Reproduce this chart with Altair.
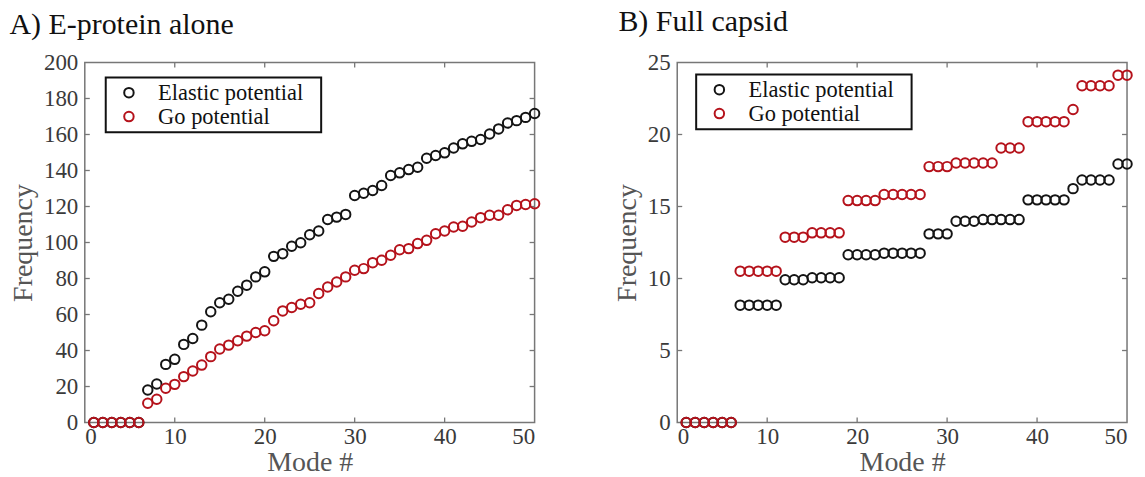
import altair as alt
import pandas as pd

modes = list(range(1, 51))
series_names = ["Elastic potential", "Go potential"]
series_colors = ["#141414", "#B5121B"]

a_elastic = [0, 0, 0, 0, 0, 0, 18.1, 21.4, 32.3, 35.1, 43.4, 46.7, 54.1, 61.5, 66.5, 68.5,
             72.9, 76.3, 80.9, 83.7, 92.3, 93.8, 97.9, 99.9, 104.3, 106.4, 112.8, 114.1,
             115.6, 126.1, 127.4, 128.9, 131.7, 137.2, 138.7, 140.5, 141.8, 146.8, 148.3,
             149.8, 152.5, 154.8, 156.2, 157.2, 160.3, 163.1, 166.4, 167.7, 169.5, 171.7]
a_go = [0, 0, 0, 0, 0, 0, 10.7, 12.9, 19.0, 21.2, 25.5, 28.6, 31.9, 36.6, 40.8, 43.0,
        45.4, 48.0, 50.0, 51.0, 56.5, 62.0, 63.9, 65.7, 66.5, 71.7, 75.3, 78.1, 80.9,
        84.6, 85.5, 88.8, 90.1, 92.9, 96.0, 96.6, 99.4, 101.2, 104.9, 106.4, 108.6,
        109.0, 111.4, 113.8, 115.1, 115.1, 118.2, 120.6, 121.1, 121.5]

b_elastic = [0, 0, 0, 0, 0, 0, 8.15, 8.15, 8.15, 8.15, 8.15, 9.91, 9.91, 9.91, 10.05,
             10.05, 10.05, 10.05, 11.65, 11.65, 11.65, 11.65, 11.76, 11.76, 11.76, 11.76,
             11.76, 13.1, 13.1, 13.1, 13.98, 13.98, 13.98, 14.09, 14.09, 14.09, 14.09,
             14.09, 15.46, 15.46, 15.46, 15.46, 15.46, 16.24, 16.84, 16.84, 16.84, 16.84,
             17.95, 17.95]
b_go = [0, 0, 0, 0, 0, 0, 10.51, 10.51, 10.51, 10.51, 10.51, 12.87, 12.87, 12.87, 13.17,
        13.17, 13.17, 13.17, 15.41, 15.41, 15.41, 15.41, 15.83, 15.83, 15.83, 15.83,
        15.83, 17.77, 17.77, 17.77, 18.02, 18.02, 18.02, 18.02, 18.02, 19.06, 19.06,
        19.06, 20.89, 20.89, 20.89, 20.89, 20.89, 21.74, 23.38, 23.38, 23.38, 23.38,
        24.12, 24.12]

x_ticks = [10, 20, 30, 40]
a_y_ticks = [20, 40, 60, 80, 100, 120, 140, 160, 180]
b_y_ticks = [5, 10, 15, 20]
a_y_labels = [0, 20, 40, 60, 80, 100, 120, 140, 160, 180, 200]
b_y_labels = [0, 5, 10, 15, 20, 25]
x_labels = [0, 10, 20, 30, 40, 50]

W, H = 451, 361
FONT = "Liberation Serif"
FRAME = "#777777"
TL = 5

axis_style = dict(labelFont=FONT, labelFontSize=23, labelColor="#3a3a3a",
                  titleFont=FONT, titleFontSize=28, titleColor="#555555", titleFontWeight="normal",
                  ticks=False, domain=False, grid=False, labelOverlap=False)


def panel(title, elastic, go, ymax, ylabels, yticks, legx, legy, toff, tdx):
    df = pd.DataFrame({
        "mode": modes + modes,
        "freq": elastic + go,
        "series": [series_names[0]] * len(modes) + [series_names[1]] * len(modes),
    })
    xs = alt.Scale(domain=[0, 50], nice=False, zero=False)
    ys = alt.Scale(domain=[0, ymax], nice=False)
    xaxis = alt.Axis(title="Mode #", values=x_labels, labelPadding=3, titlePadding=0, **axis_style)
    yaxis = alt.Axis(title="Frequency", values=ylabels, labelPadding=7, titlePadding=6, **axis_style)
    pts = alt.Chart(df).mark_point(shape="circle", filled=False, size=90, strokeWidth=2, opacity=1).encode(
        x=alt.X("mode:Q", scale=xs, axis=xaxis),
        y=alt.Y("freq:Q", scale=ys, axis=yaxis),
        color=alt.Color("series:N", scale=alt.Scale(domain=series_names, range=series_colors),
                        legend=alt.Legend(title="iii", titleOrient="right", titleFontSize=10,
                                          titlePadding=5, titleOpacity=0,
                                          orient="none", legendX=legx, legendY=legy,
                                          labelLimit=400)),
    )
    xt = pd.DataFrame({"mode": x_ticks})
    yt = pd.DataFrame({"freq": yticks})
    rule = dict(color=FRAME, strokeWidth=1.3)
    X = alt.X("mode:Q", scale=xs, axis=xaxis)
    Y = alt.Y("freq:Q", scale=ys, axis=yaxis)
    xb = alt.Chart(xt).mark_rule(**rule).encode(x=X, y=alt.value(H), y2=alt.value(H - TL))
    xtop = alt.Chart(xt).mark_rule(**rule).encode(x=X, y=alt.value(0), y2=alt.value(TL))
    yl = alt.Chart(yt).mark_rule(**rule).encode(y=Y, x=alt.value(0), x2=alt.value(TL))
    yr = alt.Chart(yt).mark_rule(**rule).encode(y=Y, x=alt.value(W), x2=alt.value(W - TL))
    return alt.layer(xb, xtop, yl, yr, pts).properties(
        width=W, height=H,
        title=alt.TitleParams(title, anchor="start", frame="bounds", fontSize=30, font=FONT,
                              fontWeight="normal", color="#111111", offset=toff, dx=tdx),
    )


pa = panel("A) E-protein alone", a_elastic, a_go, 200, a_y_labels, a_y_ticks, 21, 15, 12, 0)
pb = panel("B) Full capsid", b_elastic, b_go, 25, b_y_labels, b_y_ticks, 19, 12, 15, 5)

chart = alt.hconcat(pa, pb, spacing=68).resolve_scale(
    x="independent", y="independent", color="independent"
).resolve_legend(color="independent").properties(
    padding={"left": 0, "top": -3, "right": 0, "bottom": 0}
).configure_view(
    stroke=FRAME, strokeWidth=1.5
).configure_axis(labelOverlap=False).configure_legend(
    labelFont=FONT, labelFontSize=22.5, labelColor="#111111",
    strokeColor="#111111", strokeWidth=2, padding=4, rowPadding=1,
    symbolOffset=8, labelOffset=18, symbolSize=90, symbolStrokeWidth=2,
)

chart.save("out.html", embed_options={"renderer": "svg", "actions": False})
